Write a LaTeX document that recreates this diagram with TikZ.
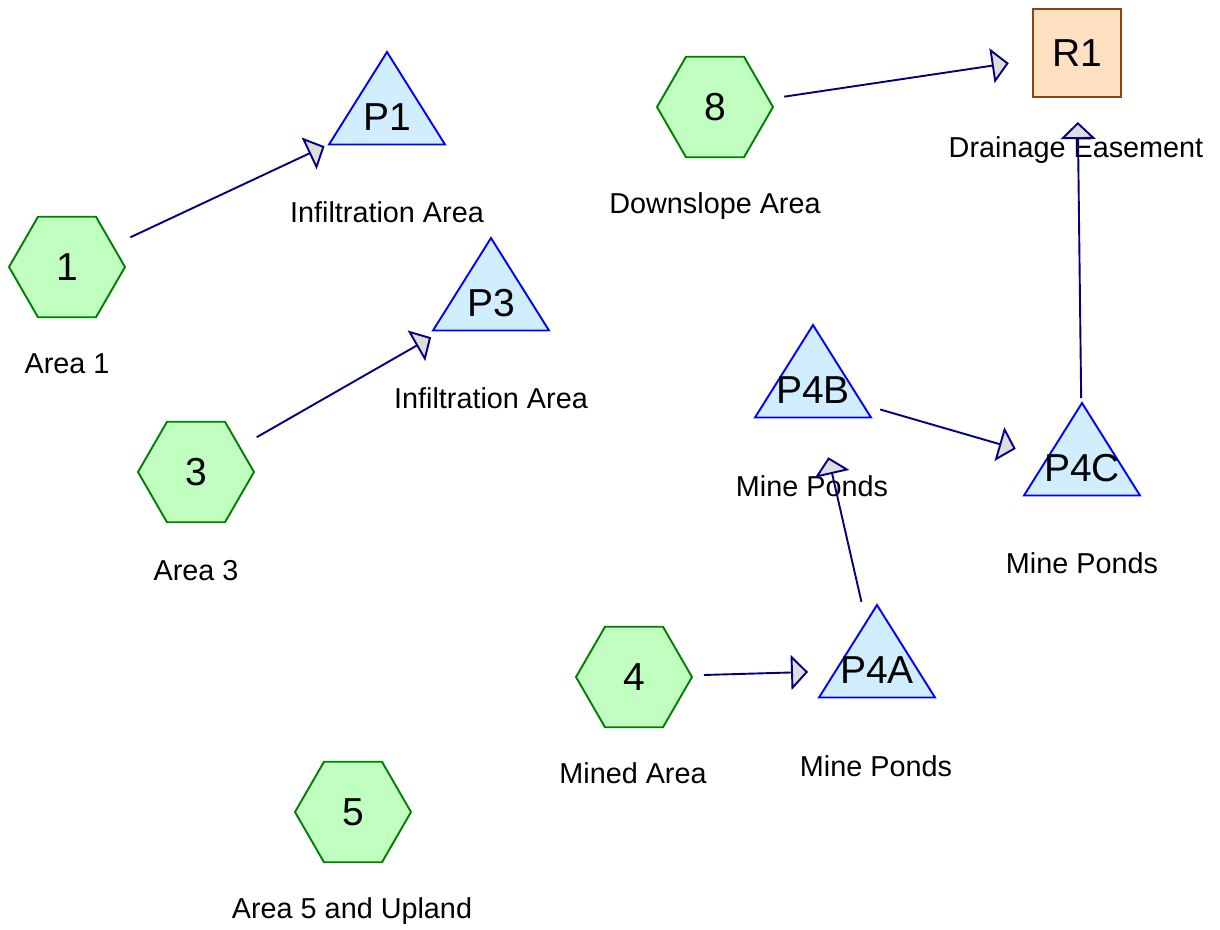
\documentclass[tikz,border=0pt]{standalone}
\usepackage{fontspec}
\setmainfont{Liberation Sans}
\usetikzlibrary{shapes.geometric,arrows.meta,backgrounds,calc}

\definecolor{areafill}{HTML}{C0FFC0}
\definecolor{areadraw}{HTML}{008000}
\definecolor{pondfill}{HTML}{D0EEFF}
\definecolor{ponddraw}{HTML}{0000FF}
\definecolor{reachfill}{HTML}{FFE0C0}
\definecolor{reachdraw}{HTML}{8B4513}
\definecolor{flowdraw}{HTML}{000080}
\definecolor{tipfill}{HTML}{DDDDDD}

\tikzset{
  area/.style={regular polygon, regular polygon sides=6, minimum size=116pt, inner sep=0pt,
    draw=areadraw, fill=areafill, line width=1.9pt, font=\fontsize{39}{44}\selectfont},
  pond/.style={inner sep=0pt, font=\fontsize{39}{44}\selectfont},
  pondline/.style={draw=ponddraw, fill=pondfill, line width=1.9pt, line join=miter},
  reach/.style={rectangle, minimum size=88pt, inner sep=0pt,
    draw=reachdraw, fill=reachfill, line width=1.9pt, font=\fontsize{39}{44}\selectfont},
  tag/.style={anchor=base, inner sep=0pt, font=\fontsize{28.8}{34}\selectfont},
  flow/.style={draw=flowdraw, line width=1.9pt, shorten <=70pt, shorten >=69pt,
    -{Triangle[length=17pt,width=35pt,fill=tipfill]}}
}

\begin{document}
\begin{tikzpicture}[x=1pt,y=-1pt]
  \useasboundingbox (0,0) rectangle (1220,929);
  % Vertices
  \node[area] (a1) at (67,267) {1};
  \node[area] (a3) at (196,472) {3};
  \node[area] (a8) at (715,107) {8};
  \node[area] (a4) at (634,677) {4};
  \node[area] (a5) at (353,812) {5};
  \node[pond] (p1) at (387,117) {P1};
  \node[pond] (p3) at (491,303) {P3};
  \node[pond] (p4b) at (813,390) {P4B};
  \node[pond] (p4c) at (1082,468) {P4C};
  \node[pond] (p4a) at (877,670) {P4A};
  \node[reach] (r1) at (1077,53) {R1};
  \begin{scope}[on background layer]
    \foreach \p in {p1,p3,p4b,p4c,p4a}
      \draw[pondline] ($(\p.center)+(0,-65)$) -- ++(-58,92.5) -- ++(116,0) -- cycle;
  \end{scope}
  % Labels
  \node[tag] (t1) at (67,373) {Area 1};
  \node[tag] (t3) at (196,580) {Area 3};
  \node[tag] (t8) at (715,213) {Downslope Area};
  \node[tag] (t4) at (633,783) {Mined Area};
  \node[tag] (t5) at (352,918) {Area 5 and Upland};
  \node[tag] (tp1) at (387,222) {Infiltration Area};
  \node[tag] (tp3) at (491,408) {Infiltration Area};
  \node[tag] (tp4b) at (812,496) {Mine Ponds};
  \node[tag] (tp4c) at (1082,573) {Mine Ponds};
  \node[tag] (tp4a) at (876,776) {Mine Ponds};
  \node[tag] (tr1) at (1076,157) {Drainage Easement};
  % Edges
  \draw[flow] (a1.center) -- (p1.center);
  \draw[flow] (a3.center) -- (p3.center);
  \draw[flow] (a8.center) -- (r1.center);
  \draw[flow] (a4.center) -- (p4a.center);
  \draw[flow] (p4a.center) -- (p4b.center);
  \draw[flow] (p4b.center) -- (p4c.center);
  \draw[flow] (p4c.center) -- (r1.center);
\end{tikzpicture}
\end{document}
